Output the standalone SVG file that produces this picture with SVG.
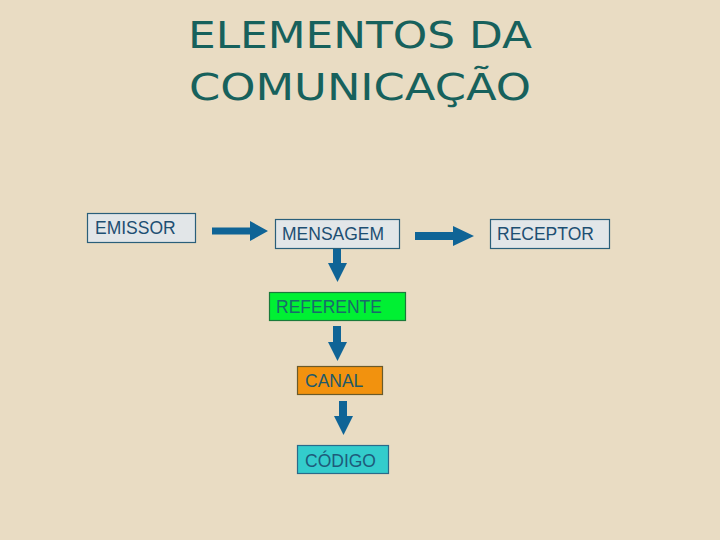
<svg xmlns="http://www.w3.org/2000/svg" width="720" height="540" viewBox="0 0 720 540">
<style>
.title{font-family:"DejaVu Sans",Verdana,sans-serif;font-size:37px;fill:#17615c;text-anchor:middle}
.box{stroke:#2a5f7a;stroke-width:1.2}
.lbl{font-family:"Liberation Sans",Arial,sans-serif;font-size:17.5px;fill:#1d4f72}
.arr{fill:#0f6496}
</style>
<rect width="720" height="540" fill="#e9dcc3"/>
<g id="title">
<text class="title" x="360" y="48" textLength="344" lengthAdjust="spacingAndGlyphs">ELEMENTOS DA</text>
<text class="title" x="360" y="100" textLength="342" lengthAdjust="spacingAndGlyphs">COMUNICAÇÃO</text>
</g>
<g id="emissor"><rect class="box" x="87.5" y="213.5" width="108" height="29" fill="#e2e6e8"/><text class="lbl" x="95" y="234">EMISSOR</text></g>
<g id="mensagem"><rect class="box" x="275.5" y="219.5" width="124" height="29" fill="#e2e6e8"/><text class="lbl" x="282" y="240">MENSAGEM</text></g>
<g id="receptor"><rect class="box" x="490.5" y="219.5" width="119" height="29" fill="#e2e6e8"/><text class="lbl" x="497" y="240">RECEPTOR</text></g>
<g id="referente"><rect x="269.5" y="292.5" width="136" height="28" fill="#00f033" stroke="#1a7a3a" stroke-width="1.2"/><text class="lbl" x="276" y="313" style="fill:#1a6a6a">REFERENTE</text></g>
<g id="canal"><rect x="297.5" y="366.5" width="85" height="28" fill="#f2920e" stroke="#6a5a2a" stroke-width="1.2"/><text class="lbl" x="305" y="387" style="fill:#1e5a6a">CANAL</text></g>
<g id="codigo"><rect x="297.5" y="445.5" width="91" height="28" fill="#33cccc" stroke="#2a6a8a" stroke-width="1.2"/><text class="lbl" x="305" y="467" style="fill:#1e5a7a">CÓDIGO</text></g>
<g id="connectors">
<polygon class="arr" points="212,227.5 250,227.5 250,221 268,231 250,241 250,234.5 212,234.5"/>
<polygon class="arr" points="415,232 453,232 453,226 474,236 453,246 453,240 415,240"/>
<polygon class="arr" points="333,249 341,249 341,263 347,263 337.5,282 328,263 333,263"/>
<polygon class="arr" points="333,326 341,326 341,342 347,342 337.5,361 328,342 333,342"/>
<polygon class="arr" points="339,401 347,401 347,416 353,416 343.5,435 334,416 339,416"/>
</g>
</svg>
